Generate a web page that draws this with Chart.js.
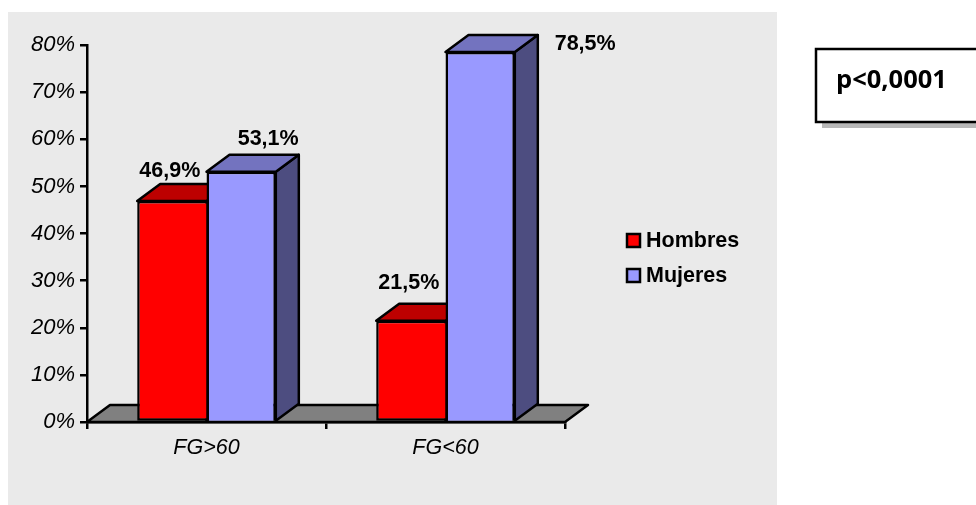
<!DOCTYPE html>
<html>
<head>
<meta charset="utf-8">
<style>
html,body{margin:0;padding:0;background:#fff;overflow:hidden}
canvas{display:block}
</style>
<script src="https://cdn.jsdelivr.net/npm/chart.js@4"></script>
</head>
<body>
<canvas id="c" width="976" height="505"></canvas>
<script>
const categories = ['FG>60', 'FG<60'];
const hombres = [46.9, 21.5];
const mujeres = [53.1, 78.5];
const seriesNames = ['Hombres', 'Mujeres'];
const note = 'p<0,0001';

// Oblique depth of the bars and floor, in pixels
const DEPTH_X = 23, DEPTH_Y = 17;
const LINE = 2.5;
const FONT = '"Liberation Sans", Arial, sans-serif';
const faces = [
  {front: '#FF0000', top: '#BD0000', side: '#800000'},
  {front: '#9999FF', top: '#7373BF', side: '#4D4D80'}
];
// Value label offsets from the top-centre of each bar: [series][category]
const labelOffsets = [
  [[-2, -30], [-2, -38]],
  [[27, -33], [105, -8]]
];

function poly(ctx, pts, fill) {
  ctx.beginPath();
  pts.forEach((p, i) => i ? ctx.lineTo(p[0], p[1]) : ctx.moveTo(p[0], p[1]));
  ctx.closePath();
  ctx.fillStyle = fill;
  ctx.fill();
  ctx.lineWidth = LINE;
  ctx.strokeStyle = '#000';
  ctx.lineJoin = 'round';
  ctx.stroke();
}

const backdrop = {
  id: 'backdrop',
  beforeDraw(chart) {
    const ctx = chart.ctx;
    ctx.save();
    ctx.fillStyle = '#EAEAEA';
    ctx.fillRect(8, 12, 769, 493);
    ctx.restore();
  }
};

const depthFaces = {
  id: 'depthFaces',
  beforeDatasetsDraw(chart) {
    const ctx = chart.ctx, a = chart.chartArea;
    ctx.save();
    // Floor of the plot
    poly(ctx, [[a.left, a.bottom], [a.left + DEPTH_X, a.bottom - DEPTH_Y],
               [a.right + DEPTH_X, a.bottom - DEPTH_Y], [a.right, a.bottom]], '#808080');
    // Top and side faces, painted back to front before the fronts
    [0, 1].forEach(di => {
      chart.getDatasetMeta(di).data.forEach(bar => {
        const l = bar.x - bar.width / 2, r = bar.x + bar.width / 2, t = bar.y, b = bar.base;
        poly(ctx, [[r, t], [r + DEPTH_X, t - DEPTH_Y], [r + DEPTH_X, b - DEPTH_Y], [r, b]], faces[di].side);
        poly(ctx, [[l, t], [l + DEPTH_X, t - DEPTH_Y], [r + DEPTH_X, t - DEPTH_Y], [r, t]], faces[di].top);
      });
    });
    ctx.restore();
  }
};

const annotations = {
  id: 'annotations',
  afterDraw(chart) {
    const ctx = chart.ctx;
    ctx.save();
    // Value labels
    ctx.font = 'bold 21.5px ' + FONT;
    ctx.fillStyle = '#000';
    ctx.textAlign = 'center';
    ctx.textBaseline = 'middle';
    chart.data.datasets.forEach((ds, di) => {
      chart.getDatasetMeta(di).data.forEach((bar, i) => {
        const o = labelOffsets[di][i];
        ctx.fillText(ds.data[i].toFixed(1).replace('.', ',') + '%', bar.x + o[0], bar.y + o[1]);
      });
    });
    // Legend
    chart.data.datasets.forEach((ds, di) => {
      const y = 241 + di * 35;
      ctx.fillStyle = ds.backgroundColor;
      ctx.strokeStyle = '#000';
      ctx.lineWidth = LINE;
      ctx.fillRect(627, y - 7, 13, 13);
      ctx.strokeRect(627, y - 7, 13, 13);
      ctx.fillStyle = '#000';
      ctx.textAlign = 'left';
      ctx.fillText(ds.label, 646, y);
    });
    // Significance box with its drop shadow
    ctx.fillStyle = '#B8B8B8';
    ctx.fillRect(822, 55, 160, 73);
    ctx.fillStyle = '#fff';
    ctx.fillRect(816, 49, 170, 73);
    ctx.strokeStyle = '#000';
    ctx.lineWidth = LINE;
    ctx.strokeRect(816, 49, 170, 73);
    ctx.fillStyle = '#000';
    ctx.font = 'bold 25.5px "Open Sans", sans-serif';
    ctx.fillText(note, 836, 81);
    ctx.restore();
  }
};

new Chart(document.getElementById('c'), {
  type: 'bar',
  data: {
    labels: categories,
    datasets: [
      {label: seriesNames[0], data: hombres, backgroundColor: faces[0].front, borderSkipped: 'right'},
      {label: seriesNames[1], data: mujeres, backgroundColor: faces[1].front, borderSkipped: 'bottom'}
    ].map(d => Object.assign(d, {
      borderColor: '#000', borderWidth: LINE, categoryPercentage: 0.58, barPercentage: 1
    }))
  },
  options: {
    responsive: false,
    animation: false,
    events: [],
    layout: {padding: {top: 45, right: 411, left: 0, bottom: 0}},
    plugins: {legend: {display: false}, tooltip: {enabled: false}},
    scales: {
      x: {
        afterFit(s) { s.height = 83; },
        grid: {drawOnChartArea: false, drawTicks: true, tickLength: 7, color: '#000', lineWidth: LINE, offset: true},
        border: {color: '#000', width: LINE},
        ticks: {color: '#000', padding: 6, maxRotation: 0, font: {family: FONT, size: 21.5, style: 'italic'}}
      },
      y: {
        min: 0, max: 80,
        afterFit(s) { s.width = 87; },
        grid: {drawOnChartArea: false, drawTicks: true, tickLength: 7, color: '#000', lineWidth: LINE},
        border: {color: '#000', width: LINE},
        ticks: {stepSize: 10, color: '#000', padding: 5, callback: v => v + '%', font: {family: FONT, size: 22, style: 'italic'}}
      }
    }
  },
  plugins: [backdrop, depthFaces, annotations]
});
</script>
</body>
</html>
